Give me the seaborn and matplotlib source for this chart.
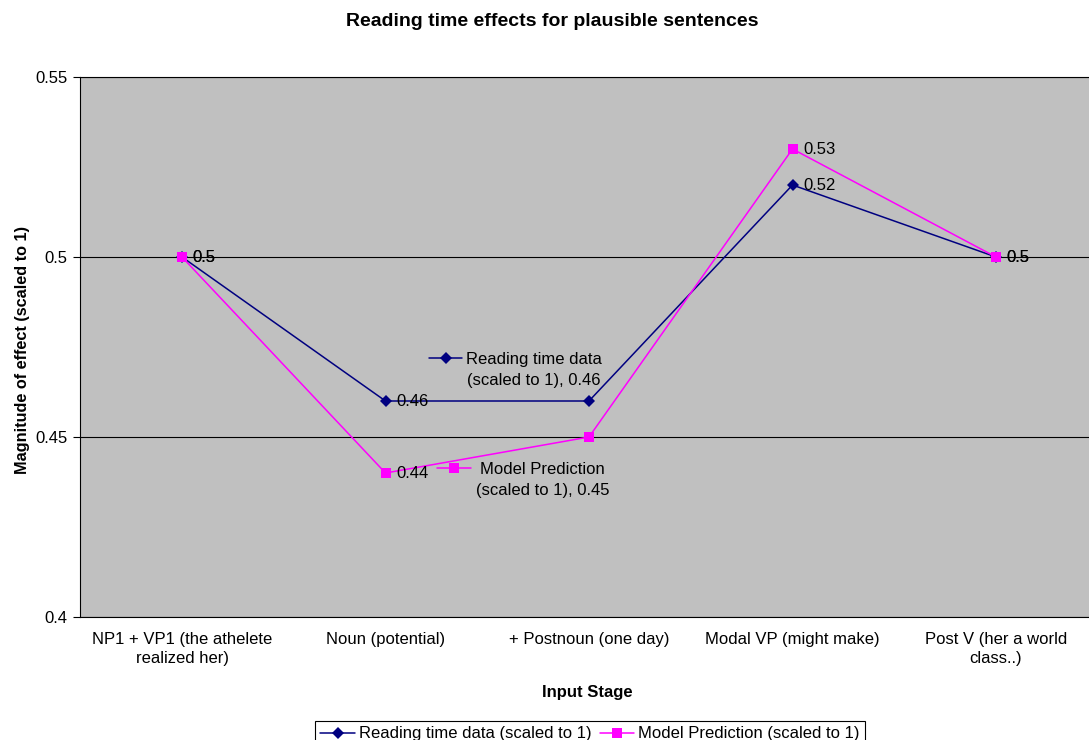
import seaborn as sns
import matplotlib.pyplot as plt
import pandas as pd
from matplotlib.lines import Line2D

# values
stages = [
    "NP1 + VP1 (the athelete\nrealized her)",
    "Noun (potential)",
    "+ Postnoun (one day)",
    "Modal VP (might make)",
    "Post V (her a world\nclass..)",
]
reading_time = [0.50, 0.46, 0.46, 0.52, 0.50]
model_pred = [0.50, 0.44, 0.45, 0.53, 0.50]
series_names = ["Reading time data (scaled to 1)", "Model Prediction (scaled to 1)"]
y_ticks = [0.4, 0.45, 0.5, 0.55]
y_tick_labels = ["0.4", "0.45", "0.5", "0.55"]

NAVY = "#000080"
MAGENTA = "#FF00FF"
FS = 12

df = pd.DataFrame(
    {
        "pos": list(range(len(stages))) * 2,
        "value": reading_time + model_pred,
        "series": [series_names[0]] * len(stages) + [series_names[1]] * len(stages),
    }
)

sns.set_theme(style="white")
plt.rcParams["font.family"] = ["Liberation Sans", "DejaVu Sans"]
plt.rcParams.update(
    {"text.color": "black", "axes.labelcolor": "black",
     "xtick.color": "black", "ytick.color": "black"}
)

W, H = 1089, 740
fig = plt.figure(figsize=(W / 100, H / 100), dpi=100)
ax = fig.add_axes([80.25 / W, 123 / H, 1017.5 / W, 540 / H])
ax.set_facecolor("#C0C0C0")

sns.lineplot(
    data=df,
    x="pos",
    y="value",
    hue="series",
    style="series",
    palette={series_names[0]: NAVY, series_names[1]: MAGENTA},
    markers={series_names[0]: "D", series_names[1]: "s"},
    dashes=False,
    markersize=6.5,
    markeredgewidth=0,
    linewidth=1.1,
    sort=False,
    legend=False,
    ax=ax,
)
# model squares a bit larger than the diamonds
for line in ax.lines:
    if str(line.get_color()).lower() == "#ff00ff":
        line.set_markersize(7.5)

ax.set_xlim(-0.5, len(stages) - 0.5)
ax.set_ylim(0.4, 0.55)
ax.set_yticks(y_ticks)
ax.set_yticklabels(y_tick_labels, fontsize=FS)
ax.set_xticks(range(len(stages)))
ax.set_xticklabels(stages, fontsize=FS, linespacing=1.35)
ax.set_xticks([i - 0.5 for i in range(len(stages) + 1)], minor=True)
ax.tick_params(axis="x", which="major", length=0, pad=11)
ax.tick_params(axis="x", which="minor", length=5, width=0.8, color="black", direction="out")
ax.tick_params(axis="y", length=5, width=0.8, color="black", direction="out", pad=4, left=True)
ax.yaxis.grid(True, color="black", linewidth=0.8)
ax.set_axisbelow(True)
for side in ["left", "bottom", "top"]:
    ax.spines[side].set_color("black")
    ax.spines[side].set_linewidth(0.8)
ax.spines["right"].set_visible(False)

ax.set_xlabel("Input Stage", fontsize=FS, fontweight="bold")
ax.set_ylabel("Magnitude of effect (scaled to 1)", fontsize=11.7, fontweight="bold")
ax.xaxis.set_label_coords(0.4985, -0.125)
ax.yaxis.set_label_coords(-0.0496, 0.494)

fig.text(552 / W, 1 - 22 / H, "Reading time effects for plausible sentences",
         ha="center", va="center", fontsize=14, fontweight="bold")

# data labels next to the points
label_pts = [
    (0, reading_time[0]), (1, reading_time[1]), (3, reading_time[3]), (4, reading_time[4]),
    (0, model_pred[0]), (1, model_pred[1]), (3, model_pred[3]), (4, model_pred[4]),
]
for x, y in label_pts:
    ax.annotate(f"{y:g}", (x, y), xytext=(7.5, 0), textcoords="offset points",
                ha="left", va="center", fontsize=FS, color="black")

# moved data labels with a key symbol (Excel style)
navy_key = Line2D([], [], color=NAVY, marker="D", markersize=6.5, markeredgewidth=0, linewidth=1.1)
pink_key = Line2D([], [], color=MAGENTA, marker="s", markersize=7.5, markeredgewidth=0, linewidth=1.1)
fig.legend([navy_key], ["Reading time data"], loc="center left",
           bbox_to_anchor=(429 / W, 1 - 359 / H), frameon=False, fontsize=FS,
           borderpad=0, borderaxespad=0, handlelength=2.0, handletextpad=0.25)
fig.text(467 / W, 1 - 381 / H, f"(scaled to 1), {reading_time[2]:g}",
         ha="left", va="center", fontsize=FS)
fig.legend([pink_key], ["Model Prediction"], loc="center left",
           bbox_to_anchor=(437 / W, 1 - 469 / H), frameon=False, fontsize=FS,
           borderpad=0, borderaxespad=0, handlelength=2.05, handletextpad=0.5)
fig.text(543 / W, 1 - 490 / H, f"(scaled to 1), {model_pred[2]:g}",
         ha="center", va="center", fontsize=FS)

# bottom legend
main_keys = [
    Line2D([], [], color=NAVY, marker="D", markersize=6.5, markeredgewidth=0, linewidth=1.1),
    Line2D([], [], color=MAGENTA, marker="s", markersize=7.5, markeredgewidth=0, linewidth=1.1),
]
leg = fig.legend(main_keys, series_names, loc="upper center", ncol=2,
                 bbox_to_anchor=(590 / W, 1 - 713 / H), fontsize=FS,
                 frameon=True, fancybox=False, edgecolor="black", framealpha=1,
                 handlelength=2.05, handletextpad=0.25, columnspacing=0.5, borderpad=0.3)
leg.get_frame().set_linewidth(0.8)

fig.savefig("out.png", dpi=100)
